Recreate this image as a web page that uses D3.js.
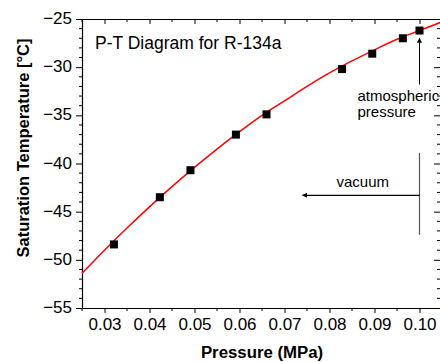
<!DOCTYPE html>
<html>
<head>
<meta charset="utf-8">
<script src="https://cdn.jsdelivr.net/npm/d3@7"></script>
<style>
    body { margin: 0; background: #fff; }
    svg { display: block; font-family: "Liberation Sans", Arial, sans-serif; }
</style>
</head>
<body>
<div id="chart"></div>
<script>
// measured points (pressure in MPa, saturation temperature in C)
const pressures = [0.0321, 0.0423, 0.0491, 0.0592, 0.0660, 0.0828, 0.0895, 0.0963, 0.1000];
const temps = [-48.4, -43.5, -40.7, -37.0, -34.9, -30.2, -28.6, -27.0, -26.2];

// red fit curve
const fitPressures = [0.025, 0.030, 0.035, 0.040, 0.045, 0.050, 0.055, 0.060, 0.065,
    0.070, 0.075, 0.080, 0.085, 0.090, 0.095, 0.100, 0.105];
const fitTemps = [-51.4, -49.0, -46.7, -44.5, -42.4, -40.4, -38.5, -36.7, -35.0,
    -33.5, -32.0, -30.6, -29.35, -28.2, -27.1, -26.2, -25.3];

const xTicks = [0.03, 0.04, 0.05, 0.06, 0.07, 0.08, 0.09, 0.10];
const yTicks = [-55, -50, -45, -40, -35, -30, -25];

class PTChart {
    constructor(config) {
        this.parentElement = config.parentElement;
        this.width = config.width;
        this.height = config.height;
        this.margin = { top: 19, right: -2, bottom: 54, left: 82 };

        this.initVis();
    }

    initVis() {
        const vis = this;

        vis.svg = d3.select(vis.parentElement)
            .append("svg")
            .attr("width", vis.width)
            .attr("height", vis.height);

        vis.innerW = vis.width - vis.margin.left - vis.margin.right;
        vis.innerH = vis.height - vis.margin.top - vis.margin.bottom;

        vis.g = vis.svg.append("g")
            .attr("transform", `translate(${vis.margin.left}, ${vis.margin.top})`);

        vis.xScale = d3.scaleLinear()
            .domain([0.025, 0.105])
            .range([0, vis.innerW]);

        vis.yScale = d3.scaleLinear()
            .domain([-55, -25])
            .range([vis.innerH, 0]);

        // arrowhead
        vis.svg.append("defs").append("marker")
            .attr("id", "head")
            .attr("viewBox", "0 0 10 10")
            .attr("refX", 9)
            .attr("refY", 5)
            .attr("markerWidth", 7)
            .attr("markerHeight", 5)
            .attr("markerUnits", "userSpaceOnUse")
            .attr("orient", "auto")
            .append("path")
            .attr("d", "M0,0 L10,5 L0,10 Z")
            .attr("fill", "#000");

        vis.wrangleData();
    }

    wrangleData() {
        let vis = this;
        vis.points = pressures.map((p, i) => ({ p: p, t: temps[i] }));
        vis.fit = fitPressures.map((p, i) => ({ p: p, t: fitTemps[i] }));
        vis.updateVis();
    }

    updateVis() {
        const vis = this;
        const fmt = d3.format(".2f");
        const minorX = d3.range(0.025, 0.1051, 0.005).filter(v => Math.abs(v * 200 % 2 - 1) < 0.01);
        const minorY = d3.range(-55, -24, 1).filter(v => v % 5 !== 0);

        // bottom axis
        const bottom = vis.g.append("g")
            .attr("transform", `translate(0, ${vis.innerH})`);
        bottom.call(d3.axisBottom(vis.xScale).tickValues(xTicks).tickFormat(fmt).tickSize(5).tickSizeOuter(0));
        bottom.call(g => g.selectAll(".minor").data(minorX).enter().append("line")
            .attr("class", "minor")
            .attr("x1", d => vis.xScale(d)).attr("x2", d => vis.xScale(d))
            .attr("y1", 0).attr("y2", 3)
            .attr("stroke", "#000"));

        // top axis
        const top = vis.g.append("g");
        top.call(d3.axisTop(vis.xScale).tickValues(xTicks).tickFormat("").tickSize(-5).tickSizeOuter(0));
        top.call(g => g.selectAll(".minor").data(minorX).enter().append("line")
            .attr("class", "minor")
            .attr("x1", d => vis.xScale(d)).attr("x2", d => vis.xScale(d))
            .attr("y1", 0).attr("y2", 3)
            .attr("stroke", "#000"));

        // left axis
        const left = vis.g.append("g");
        left.call(d3.axisLeft(vis.yScale).tickValues(yTicks).tickSize(6).tickSizeOuter(0));
        left.call(g => g.selectAll(".minor").data(minorY).enter().append("line")
            .attr("class", "minor")
            .attr("y1", d => vis.yScale(d)).attr("y2", d => vis.yScale(d))
            .attr("x1", 0).attr("x2", -3)
            .attr("stroke", "#000"));

        // right axis
        const right = vis.g.append("g")
            .attr("transform", `translate(${vis.innerW}, 0)`);
        right.call(d3.axisRight(vis.yScale).tickValues(yTicks).tickFormat("").tickSize(-8).tickSizeOuter(0));
        right.call(g => g.selectAll(".minor").data(minorY).enter().append("line")
            .attr("class", "minor")
            .attr("y1", d => vis.yScale(d)).attr("y2", d => vis.yScale(d))
            .attr("x1", 0).attr("x2", -5)
            .attr("stroke", "#000"));

        vis.g.selectAll(".domain").attr("stroke", "#000").attr("stroke-width", 1.2);
        vis.g.selectAll(".tick text")
            .style("font-size", "17px")
            .style("font-family", "'Liberation Sans', Arial, sans-serif")
            .attr("fill", "#000");
        bottom.selectAll(".tick text").attr("y", 10);
        left.selectAll(".tick text").attr("x", -10).attr("dy", "0.27em");

        // fit curve
        const line = d3.line()
            .x(d => vis.xScale(d.p))
            .y(d => vis.yScale(d.t))
            .curve(d3.curveMonotoneX);

        vis.g.append("path")
            .datum(vis.fit)
            .attr("fill", "none")
            .attr("stroke", "#ff0000")
            .attr("stroke-width", 1.5)
            .attr("d", line);

        // data squares
        vis.g.selectAll("rect.pt")
            .data(vis.points)
            .enter()
            .append("rect")
            .attr("class", "pt")
            .attr("x", d => vis.xScale(d.p) - 4)
            .attr("y", d => vis.yScale(d.t) - 4)
            .attr("width", 8)
            .attr("height", 8)
            .attr("fill", "#000");

        // title
        vis.g.append("text")
            .attr("x", 13)
            .attr("y", 30)
            .text("P-T Diagram for R-134a")
            .style("font-size", "17.5px");

        // atmospheric pressure annotation
        const xAtm = vis.xScale(0.1);
        vis.g.append("line")
            .attr("x1", xAtm).attr("x2", xAtm)
            .attr("y1", vis.yScale(-31.8)).attr("y2", vis.yScale(-27.0))
            .attr("stroke", "#000")
            .attr("stroke-width", 1)
            .attr("marker-end", "url(#head)");

        vis.g.append("text")
            .attr("x", xAtm - 62)
            .attr("y", 82)
            .style("font-size", "15px")
            .selectAll("tspan")
            .data(["atmospheric", "pressure"])
            .enter()
            .append("tspan")
            .attr("x", xAtm - 62)
            .attr("dy", (d, i) => i === 0 ? 0 : 16)
            .text(d => d);

        // vacuum annotation
        vis.g.append("line")
            .attr("x1", xAtm).attr("x2", xAtm)
            .attr("y1", vis.yScale(-38.9)).attr("y2", vis.yScale(-47.4))
            .attr("stroke", "#555")
            .attr("stroke-width", 1.2);

        vis.g.append("line")
            .attr("x1", xAtm).attr("x2", vis.xScale(0.074))
            .attr("y1", vis.yScale(-43.3)).attr("y2", vis.yScale(-43.3))
            .attr("stroke", "#000")
            .attr("stroke-width", 1.2)
            .attr("marker-end", "url(#head)");

        vis.g.append("text")
            .attr("x", xAtm - 83)
            .attr("y", vis.yScale(-42.4))
            .text("vacuum")
            .style("font-size", "15px");

        // axis labels
        vis.svg.append("text")
            .attr("x", 262)
            .attr("y", 358)
            .attr("text-anchor", "middle")
            .style("font-size", "16.8px")
            .style("font-weight", "bold")
            .text("Pressure (MPa)");

        vis.svg.append("text")
            .attr("transform", "translate(29, 148) rotate(-90)")
            .attr("text-anchor", "middle")
            .style("font-size", "16.5px")
            .style("font-weight", "bold")
            .text("Saturation Temperature [°C]");
    }
}

new PTChart({ parentElement: "#chart", width: 440, height: 362 });
</script>
</body>
</html>
